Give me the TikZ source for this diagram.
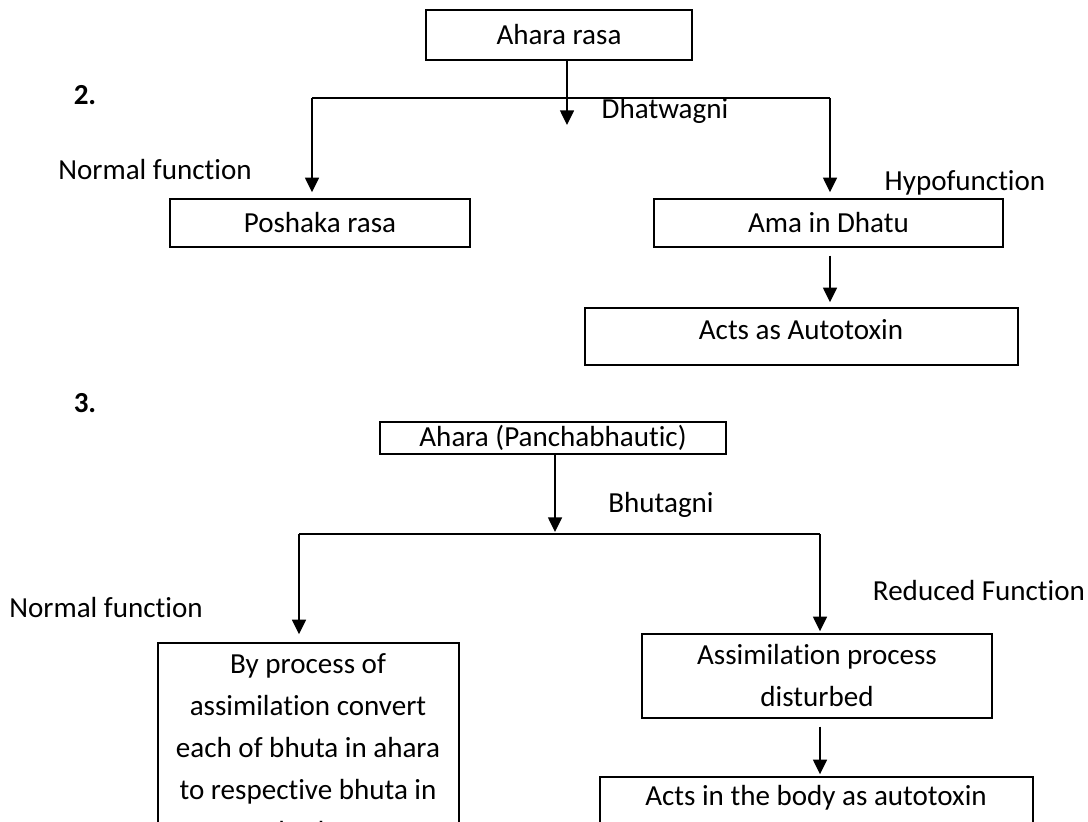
\documentclass[tikz,border=0pt]{standalone}
\usepackage{fontspec}
\setmainfont{Carlito}[Ligatures=NoCommon]
\usetikzlibrary{arrows.meta}
\tikzset{
  x=0.75pt, y=-0.75pt,
  every node/.style={font=\fontsize{21.8}{31.5}\selectfont, inner sep=0pt},
  box/.style={draw, line width=1.1pt, inner sep=0pt, align=center},
  lbl/.style={inner sep=0pt},
  conn/.style={line width=1.1pt},
  arr/.style={conn, -{Triangle[length=11pt,width=10.5pt]}},
}
\begin{document}
\begin{tikzpicture}
\useasboundingbox (0,0) rectangle (1088,821);
\clip (0,0) rectangle (1088,821);
% ---------- Diagram 2 ----------
\node[lbl, font=\fontsize{21.8}{31.5}\selectfont\bfseries] (two) at (85,95) {2.};
\node[box, minimum width=199.5pt, minimum height=37.5pt] (ahara) at (559,35) {Ahara rasa};
\coordinate (t1) at (567,125);
\draw[arr] (ahara.south -| t1) -- (t1);
\coordinate (bl) at (312,98);
\coordinate (br) at (830,98);
\draw[conn] (bl) -- (br);
\node[box, minimum width=225pt, minimum height=36pt] (poshaka) at (320,223) {Poshaka rasa};
\node[box, minimum width=261.75pt, minimum height=36pt] (ama) at (828.5,223) {Ama in Dhatu};
\draw[arr, shorten >=4.5pt] (bl) -- (bl |- poshaka.north);
\draw[arr, shorten >=4.5pt] (br) -- (br |- ama.north);
\node[box, minimum width=324.75pt, minimum height=42.75pt] (autotox) at (801.5,336.5) {};
\node[lbl] (autotoxt) at (801,330) {Acts as Autotoxin};
\draw[arr, shorten <=6pt, shorten >=3.75pt] (ama.south -| br) -- (autotox.north -| br);
\node[lbl] (nf1) at (155,170) {Normal function};
\node[lbl] (dhat) at (665,111) {Dhatwagni};
\node[lbl] (hypo) at (965,183) {Hypofunction};
% ---------- Diagram 3 ----------
\node[lbl, font=\fontsize{21.8}{31.5}\selectfont\bfseries] (three) at (85,403) {3.};
\node[box, minimum width=259.5pt, minimum height=24pt] (ahp) at (553,438) {Ahara (Panchabhautic)};
\coordinate (t2) at (555,532);
\draw[arr] (ahp.south -| t2) -- (t2);
\coordinate (bl2) at (299,534);
\coordinate (br2) at (820,534);
\draw[conn] (bl2) -- (br2);
\node[box, minimum width=225.75pt, minimum height=192.75pt] (proc) at (308.5,771.5) {};
\node[lbl, anchor=north, align=center] (proct) at (308,653)
  {By process of\\assimilation convert\\each of bhuta in ahara\\to respective bhuta in\\body};
\node[box, minimum width=262.5pt, minimum height=63pt] (assim) at (817,676) {Assimilation process\\disturbed};
\draw[arr, shorten >=6pt] (bl2) -- (bl2 |- proc.north);
\draw[arr, shorten >=1.5pt] (br2) -- (br2 |- assim.north);
\node[box, minimum width=324.75pt, minimum height=92.25pt] (body) at (816.5,838.5) {};
\node[lbl] (bodyt) at (816,798) {Acts in the body as autotoxin};
\draw[arr, shorten <=6pt, shorten >=1.5pt] (assim.south -| br2) -- (body.north -| br2);
\node[lbl] (bhut) at (661,505) {Bhutagni};
\node[lbl] (nf2) at (106,608) {Normal function};
\node[lbl] (red) at (979,591) {Reduced Function};
\end{tikzpicture}
\end{document}
